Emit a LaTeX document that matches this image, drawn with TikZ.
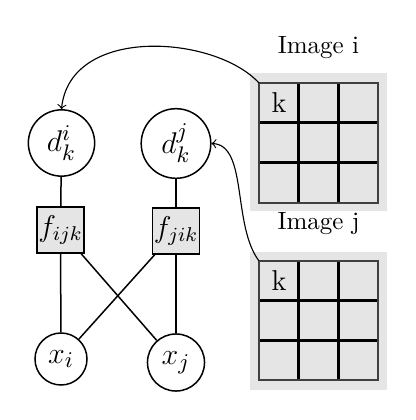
\documentclass[tikz,border=0pt]{standalone}
\usetikzlibrary{arrows}
\begin{document}
\begin{tikzpicture}[x=0.4pt,y=0.4pt,
  varnode/.style={circle,draw,line width=0.6pt,font=\fontsize{13}{15}\selectfont,inner sep=3pt},
  factor/.style={rectangle,draw,line width=0.6pt,fill=black!10,font=\large,inner sep=0.3pt,minimum width=18.8pt,minimum height=18.4pt},
  edge/.style={line width=0.6pt},
  link/.style={->,line width=0.45pt},
  bgpanel/.style={fill=black!10},
  cellfill/.style={fill=black!10,draw=black!75,line width=0.8pt},
  innerline/.style={draw=black,line width=1.2pt},
  title/.style={font=\normalsize},
  celllabel/.style={font=\fontsize{11.5}{13}\selectfont}]
\useasboundingbox (0,0) rectangle (415,420);

% factor graph nodes
\node[varnode] (dki) at (61.5,277) {$d_k^i$};
\node[varnode] (dkj) at (176,276.5) {$d_k^j$};
\node[factor] (fijk) at (60.5,190) {$f_{ijk}$};
\node[factor] (fjik) at (176,189) {$f_{jik}$};
\node[varnode] (xi) at (61,61) {$x_i$};
\node[varnode] (xj) at (176,57.5) {$x_j$};

\draw[edge] (dki) -- (fijk);
\draw[edge] (dkj) -- (fjik);
\draw[edge] (fijk) -- (xi);
\draw[edge] (fijk) -- (xj);
\draw[edge] (fjik) -- (xi);
\draw[edge] (fjik) -- (xj);

% Image i
\fill[bgpanel] (250,209) rectangle (387,347);
\draw[cellfill] (259,217) rectangle (378,337);
\draw[innerline] (298.7,217) -- (298.7,337);
\draw[innerline] (338.3,217) -- (338.3,337);
\draw[innerline] (259,257) -- (378,257);
\draw[innerline] (259,297) -- (378,297);
\draw[black!75,line width=0.8pt] (259,217) rectangle (378,337);
\node[celllabel] (ki) at (279,317) {k};
\node[title] (ti) at (318.5,372) {Image i};
\coordinate (ci) at (259,337);

% Image j
\fill[bgpanel] (250,30) rectangle (387,168);
\draw[cellfill] (259,40) rectangle (378,159);
\draw[innerline] (298.7,40) -- (298.7,159);
\draw[innerline] (338.3,40) -- (338.3,159);
\draw[innerline] (259,79.7) -- (378,79.7);
\draw[innerline] (259,119.3) -- (378,119.3);
\draw[black!75,line width=0.8pt] (259,40) rectangle (378,159);
\node[celllabel] (kj) at (279,139) {k};
\node[title] (tj) at (318.5,196) {Image j};
\coordinate (cj) at (259,159);

% links
\draw[link] (ci) .. controls (215,385) and (70,395) .. (dki.north);
\draw[link] (cj) .. controls (232,195) and (248,275) .. (dkj.east);
\end{tikzpicture}
\end{document}
